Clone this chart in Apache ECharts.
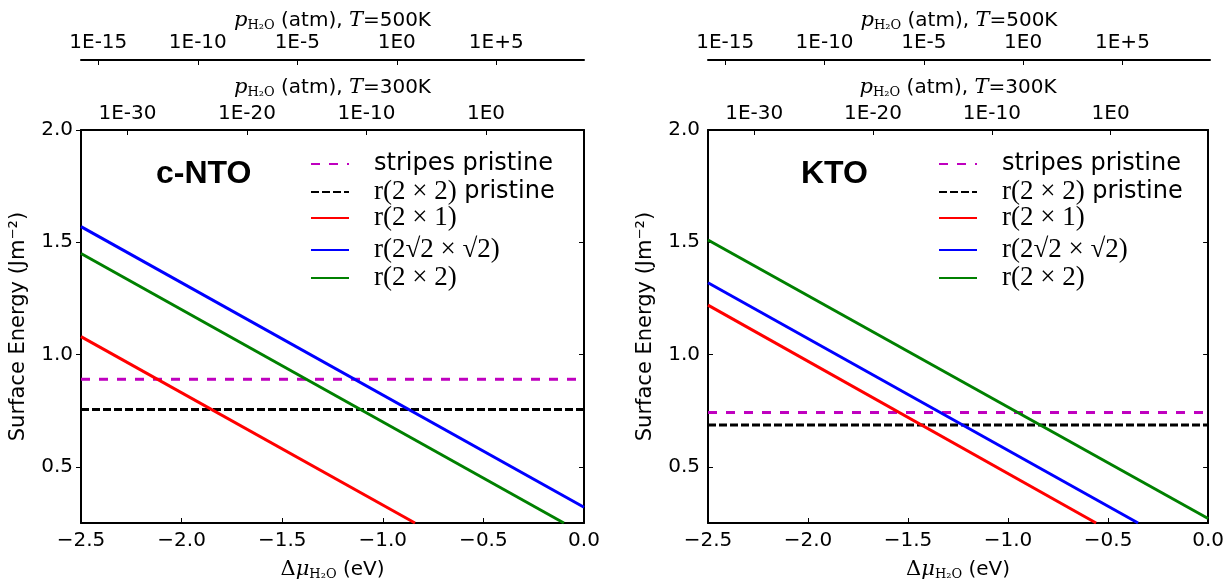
<!DOCTYPE html>
<html><head><meta charset="utf-8">
<script src="https://cdn.jsdelivr.net/npm/echarts@6/dist/echarts.min.js"></script>
<style>html,body{margin:0;padding:0;background:#fff}#c{width:1227px;height:586px}</style>
</head><body><div id="c"></div>
<script>
// ---- data ----
const panelTitles = ['c-NTO', 'KTO'];
const seriesNames = ['stripes pristine', 'r(2×2) pristine', 'r(2×1)', 'r(2√2×√2)', 'r(2×2)'];
const seriesColors = ['#bf00bf', '#000000', '#ff0000', '#0000ff', '#008000'];

// c-NTO : [Δμ (eV), surface energy (J m^-2)]
const cnto_stripes = [[-2.5, 0.89], [0.0, 0.89]];
const cnto_r22p    = [[-2.5, 0.755], [0.0, 0.755]];
const cnto_r21     = [[-2.5, 1.08], [-0.84, 0.25]];
const cnto_r2s2    = [[-2.5, 1.57], [0.0, 0.32]];
const cnto_r22     = [[-2.5, 1.45], [-0.10, 0.25]];

// KTO
const kto_stripes = [[-2.5, 0.742], [0.0, 0.742]];
const kto_r22p    = [[-2.5, 0.686], [0.0, 0.686]];
const kto_r21     = [[-2.5, 1.22], [-0.56, 0.25]];
const kto_r2s2    = [[-2.5, 1.32], [-0.35, 0.25]];
const kto_r22     = [[-2.5, 1.51], [0.0, 0.27]];

const yTicks = [0.5, 1.0, 1.5, 2.0];
const p500Ticks = [-15, -10, -5, 0, 5];
const p300Ticks = [-30, -20, -10, 0];
const p500Range = [-15.87, 9.41];   // log10(p) at Δμ = -2.5 and 0, T = 500 K
const p300Range = [-33.89, 8.2];    // log10(p) at Δμ = -2.5 and 0, T = 300 K

// ---- layout ----
const plotGrids = [
  {left: 81, top: 130, width: 503, height: 398},
  {left: 708, top: 130, width: 502, height: 398}
];
const legendLeft = [310, 938];
const legendRows = [164, 192, 218, 250, 278];
const titleLeft = [156, 801];

const FONT = 'DejaVu Sans';
const SERIF = 'DejaVu Serif';
const black = '#000';
const TICK = 20;

const expFmt = v => '1E' + (v > 0 ? '+' : '') + v;
const muFmt = v => v.toFixed(1).replace('-', '\u2212');

const pNameRich = {
  i: {fontFamily: SERIF, fontStyle: 'italic', fontSize: 21, color: black},
  s: {fontFamily: SERIF, fontSize: 13, color: black, padding: [10, 0, 0, 0]}
};
const pName = T => '{i|p}{s|H₂O} (atm), {i|T}=' + T;

const grids = [
  plotGrids[0], plotGrids[1],
  {left: plotGrids[0].left, top: 60, width: plotGrids[0].width, height: 1},
  {left: plotGrids[1].left, top: 60, width: plotGrids[1].width, height: 1}
];

function muAxis(gi) {
  return {
    type: 'value', gridIndex: gi, position: 'bottom', min: -2.5, max: 0, interval: 0.5,
    axisLine: {show: true, onZero: false, lineStyle: {color: black, width: 2}},
    axisTick: {show: true, inside: true, length: 5, lineStyle: {color: black}},
    axisLabel: {color: black, fontSize: TICK, fontFamily: FONT, margin: 8, formatter: muFmt,
                showMinLabel: true, showMaxLabel: true, hideOverlap: false},
    splitLine: {show: false},
    name: '{d|Δ}{m|μ}{s|H₂O} (eV)', nameLocation: 'middle', nameGap: 35,
    nameTextStyle: {fontFamily: FONT, fontSize: 20, color: black, rich: {
      d: {fontFamily: SERIF, fontSize: 21, color: black},
      m: {fontFamily: SERIF, fontStyle: 'italic', fontSize: 21, color: black},
      s: {fontFamily: SERIF, fontSize: 13, color: black, padding: [10, 0, 0, 0]}
    }}
  };
}
function pAxis(gi, range, ticks, T, gap, margin) {
  return {
    type: 'value', gridIndex: gi, position: 'top', min: range[0], max: range[1],
    axisLine: {show: true, onZero: false, lineStyle: {color: black, width: 2}},
    axisTick: {show: true, inside: true, length: 5, customValues: ticks, lineStyle: {color: black}},
    axisLabel: {color: black, fontSize: TICK, fontFamily: FONT, margin: margin, customValues: ticks, formatter: expFmt},
    splitLine: {show: false},
    name: pName(T), nameLocation: 'middle', nameGap: gap,
    nameTextStyle: {fontFamily: FONT, fontSize: 20, color: black, rich: pNameRich}
  };
}
function eAxis(gi, pos, showLabels) {
  return {
    type: 'value', gridIndex: gi, position: pos, min: 0.25, max: 2.0,
    axisLine: {show: true, onZero: false, lineStyle: {color: black, width: 2}},
    axisTick: {show: true, inside: pos === 'right' || gi === 1, length: 5, customValues: yTicks, lineStyle: {color: black}},
    axisLabel: {show: showLabels, color: black, fontSize: TICK, fontFamily: FONT, margin: 8,
                customValues: yTicks, formatter: v => v.toFixed(1)},
    splitLine: {show: false},
    name: showLabels ? 'Surface Energy (Jm⁻²)' : '', nameLocation: 'middle', nameGap: 52,
    nameTextStyle: {fontFamily: FONT, fontSize: 21, color: black}
  };
}

const xAxes = [
  muAxis(0), pAxis(0, p300Range, p300Ticks, '300K', 30, 6),
  muAxis(1), pAxis(1, p300Range, p300Ticks, '300K', 30, 6),
  pAxis(2, p500Range, p500Ticks, '500K', 28, 7),
  pAxis(3, p500Range, p500Ticks, '500K', 28, 7)
];
const yAxes = [
  eAxis(0, 'left', true), eAxis(0, 'right', false),
  eAxis(1, 'left', true), eAxis(1, 'right', false),
  {type: 'value', gridIndex: 2, show: false, min: 0, max: 1},
  {type: 'value', gridIndex: 3, show: false, min: 0, max: 1}
];

const panelData = [
  [cnto_stripes, cnto_r22p, cnto_r21, cnto_r2s2, cnto_r22],
  [kto_stripes, kto_r22p, kto_r21, kto_r2s2, kto_r22]
];
const lineTypes = [[9, 9], [8, 3], 'solid', 'solid', 'solid'];

const series = [];
panelData.forEach((arr, p) => {
  arr.forEach((d, i) => {
    series.push({
      type: 'line', name: seriesNames[i], data: d,
      xAxisIndex: p * 2, yAxisIndex: p * 2,
      symbol: 'none', showSymbol: false, animation: false,
      lineStyle: {color: seriesColors[i], width: 3, type: lineTypes[i]},
      itemStyle: {color: seriesColors[i]}
    });
  });
});

const legendText = {
  'stripes pristine': 'stripes pristine',
  'r(2×2) pristine': '{m|r(2 × 2)} pristine',
  'r(2×1)': '{m|r(2 × 1)}',
  'r(2√2×√2)': '{m|r(2√2 × √2)}',
  'r(2×2)': '{m|r(2 × 2)}'
};
const legends = [];
[0, 1].forEach(p => {
  seriesNames.forEach((n, i) => {
    legends.push({
      data: [n], left: legendLeft[p], top: legendRows[i] - 15, padding: 0,
      itemWidth: 38, itemHeight: 4, selectedMode: false,
      itemStyle: {opacity: 0, borderWidth: 0},
      formatter: nm => legendText[nm],
      textStyle: {fontFamily: FONT, fontSize: 24, color: black, lineHeight: 30, padding: [0, 0, 0, 20],
                  rich: {m: {fontFamily: 'Liberation Serif', fontSize: 27, color: black}}}
    });
  });
});

const titles = panelTitles.map((t, p) => ({
  text: t, left: titleLeft[p], top: 158, padding: 0,
  textStyle: {fontFamily: 'Liberation Sans', fontWeight: 'bold', fontSize: 32, color: black}
}));

const chart = echarts.init(document.getElementById('c'), null, {renderer: 'canvas'});
chart.setOption({
  backgroundColor: '#fff',
  animation: false,
  title: titles,
  legend: legends,
  grid: grids,
  xAxis: xAxes,
  yAxis: yAxes,
  series: series
});
</script></body></html>
